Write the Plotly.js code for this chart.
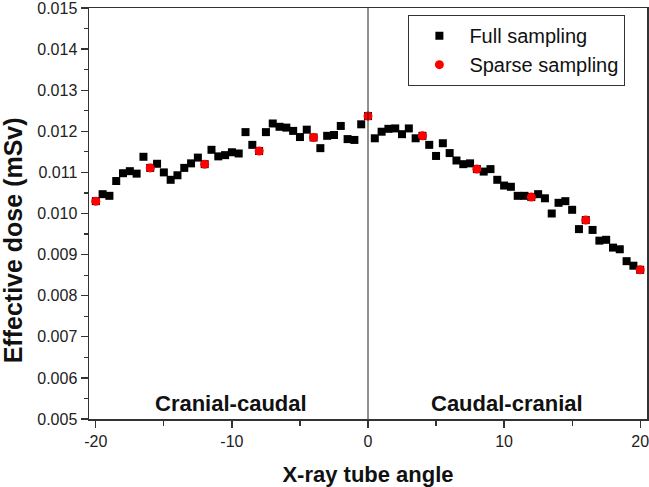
<!DOCTYPE html>
<html>
<head>
<meta charset="utf-8">
<script src="https://cdn.plot.ly/plotly-3.0.1.min.js"></script>
<style>html,body{margin:0;padding:0;background:#fff;}#chart{width:649px;height:487px;}</style>
</head>
<body>
<div id="chart"></div>
<script>
const fullAngle = [-20,-19.5,-19,-18.5,-18,-17.5,-17,-16.5,-16,-15.5,-15,-14.5,-14,-13.5,-13,-12.5,-12,-11.5,-11,-10.5,-10,-9.5,-9,-8.5,-8,-7.5,-7,-6.5,-6,-5.5,-5,-4.5,-4,-3.5,-3,-2.5,-2,-1.5,-1,-0.5,0,0.5,1,1.5,2,2.5,3,3.5,4,4.5,5,5.5,6,6.5,7,7.5,8,8.5,9,9.5,10,10.5,11,11.5,12,12.5,13,13.5,14,14.5,15,15.5,16,16.5,17,17.5,18,18.5,19,19.5,20];
const fullDose = [0.01030,0.01047,0.01043,0.01079,0.01098,0.01103,0.01097,0.01138,0.01111,0.01121,0.01100,0.01082,0.01093,0.01111,0.01122,0.01136,0.01120,0.01155,0.01139,0.01142,0.01149,0.01146,0.01198,0.01167,0.01152,0.01198,0.01219,0.01211,0.01209,0.01201,0.01186,0.01204,0.01185,0.01159,0.01189,0.01191,0.01213,0.01181,0.01179,0.01217,0.01237,0.01183,0.01199,0.01206,0.01207,0.01193,0.01207,0.01183,0.01189,0.01167,0.01140,0.01171,0.01147,0.01129,0.01120,0.01122,0.01108,0.01102,0.01108,0.01082,0.01068,0.01065,0.01043,0.01043,0.01040,0.01047,0.01037,0.01000,0.01026,0.01030,0.01009,0.00962,0.00984,0.00960,0.00934,0.00936,0.00917,0.00913,0.00884,0.00873,0.00863];
const sparseAngle = [-20,-16,-12,-8,-4,0,4,8,12,16,20];
const sparseDose = [0.01030,0.01111,0.01120,0.01152,0.01185,0.01237,0.01189,0.01108,0.01040,0.00984,0.00863];
const xTickVals = [-20,-10,0,10,20];
const xTickText = ['-20','-10','0','10','20'];
const yTickVals = [0.005,0.006,0.007,0.008,0.009,0.010,0.011,0.012,0.013,0.014,0.015];
const yTickText = ['0.005','0.006','0.007','0.008','0.009','0.010','0.011','0.012','0.013','0.014','0.015'];
const regionLabels = ['Cranial-caudal','Caudal-cranial'];
const regionX = [-10.1,10.2];
const regionY = [0.00538,0.00538];
const yTitleText = 'Effective dose (mSv)';
const xTitleText = 'X-ray tube angle';

const tickFont = {family:'Liberation Sans, Arial, sans-serif', size:16, color:'#222'};
const xTitleFont = {family:'Liberation Sans, Arial, sans-serif', size:22, color:'#111', weight:'bold'};
const yTitleFont = {family:'Liberation Sans, Arial, sans-serif', size:25, color:'#111', weight:'bold'};
const annFont = {family:'Liberation Sans, Arial, sans-serif', size:22, color:'#111', weight:'bold'};

const traces = [
  {x: fullAngle, y: fullDose, type:'scatter', mode:'markers', name:'Full sampling',
   marker:{symbol:'square', size:8, color:'#000'}},
  {x: sparseAngle, y: sparseDose, type:'scatter', mode:'markers', name:'Sparse sampling',
   marker:{symbol:'circle', size:9, color:'#ff0000'}}
];

const annotations = regionLabels.map((t,i)=>({text:t, x:regionX[i], y:regionY[i], xref:'x', yref:'y',
     showarrow:false, font:annFont}));
annotations.push({text:yTitleText, xref:'paper', yref:'paper', x:-0.136, y:0.435, xanchor:'center', yanchor:'middle',
     textangle:-90, showarrow:false, font:yTitleFont});

const layout = {
  width:649, height:487,
  margin:{l:89, r:2, t:8, b:68},
  paper_bgcolor:'#fff', plot_bgcolor:'#fff',
  showlegend:true,
  legend:{x:0.572, y:0.983, xanchor:'left', yanchor:'top', bordercolor:'#333', borderwidth:1.2,
          bgcolor:'#fff', font:{family:'Liberation Sans, Arial, sans-serif', size:20, color:'#111'},
          itemwidth:50, tracegroupgap:0},
  xaxis:{range:[-20.5,20.5], tickmode:'array', tickvals:xTickVals, ticktext:xTickText,
         ticks:'outside', ticklen:7, tickwidth:1.3, tickcolor:'#333', ticklabeloverflow:'allow',
         minor:{dtick:5, tick0:0, ticks:'outside', ticklen:5, tickwidth:1.2, tickcolor:'#333', showgrid:false},
         showgrid:false, zeroline:false, showline:true, linecolor:'#333', linewidth:1.5, mirror:true,
         tickfont:tickFont, title:{text:xTitleText, font:xTitleFont, standoff:18}},
  yaxis:{range:[0.005-1e-8,0.015+1e-8], tickmode:'array', tickvals:yTickVals, ticktext:yTickText,
         ticks:'outside', ticklen:7, tickwidth:1.3, tickcolor:'#333', ticklabeloverflow:'allow',
         minor:{dtick:0.0005, tick0:0.005, ticks:'outside', ticklen:4, tickwidth:1.2, tickcolor:'#333', showgrid:false},
         showgrid:false, zeroline:false, showline:true, linecolor:'#333', linewidth:1.5, mirror:true,
         tickfont:tickFont},
  shapes:[{type:'line', xref:'x', yref:'paper', x0:0, x1:0, y0:0, y1:1, line:{color:'#222', width:1}}],
  annotations: annotations
};

Plotly.newPlot('chart', traces, layout, {displayModeBar:false, staticPlot:true});
</script>
</body>
</html>
